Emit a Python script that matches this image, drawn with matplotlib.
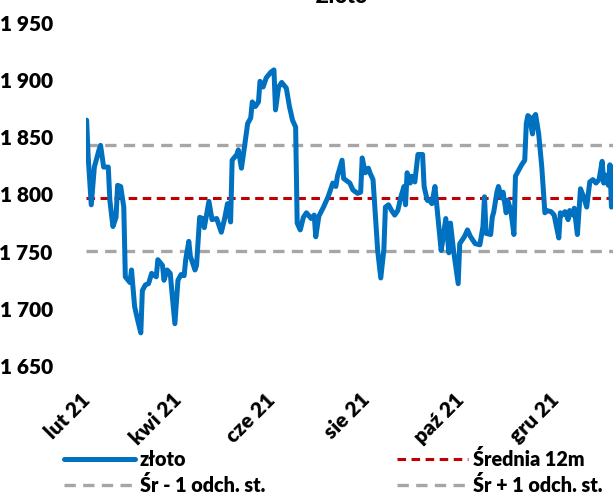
import matplotlib
matplotlib.use("Agg")
import matplotlib.pyplot as plt
import matplotlib.dates as mdates
import matplotlib.ticker as mticker
from matplotlib.lines import Line2D
import pandas as pd

plt.rcParams["font.family"] = ["Lato", "DejaVu Sans"]
plt.rcParams["font.weight"] = "bold"

# ── data ────────────────────────────────────────────────────────────────────
START = "2021-02-01"
days = [0, 1, 3, 5, 8, 9, 11, 14, 15, 17, 19, 20, 22, 24, 25, 28, 29, 31, 33,
        35, 36, 38, 40, 42, 45, 46, 49, 50, 52, 54, 57, 59, 61, 63, 64, 66, 67,
        70, 71, 73, 75, 76, 79, 81, 84, 87, 89, 91, 93, 94, 97, 98, 100, 102,
        104, 106, 107, 109, 111, 112, 114, 116, 119, 121, 122, 124, 126, 129,
        131, 133, 135, 136, 138, 140, 142, 145, 147, 148, 150, 153, 156, 159,
        161, 162, 165, 166, 170, 172, 175, 177, 178, 180, 182, 183, 185, 187,
        188, 190, 192, 193, 195, 197, 199, 201, 203, 205, 206, 207, 209, 210,
        212, 214, 217, 218, 220, 222, 223, 225, 227, 229, 230, 232, 234, 235,
        237, 240, 241, 244, 246, 248, 251, 254, 256, 257, 258, 261, 262, 263,
        265, 266, 268, 269, 271, 272, 274, 276, 277, 281, 283, 284, 285, 286,
        288, 289, 290, 292, 294, 296, 297, 300, 302, 303, 305, 306, 307, 309,
        311, 312, 314, 315, 317, 319, 321, 323, 325, 327, 329, 331, 333, 334,
        335, 337, 338, 339, 340, 342]
zloto = [1865, 1833, 1791, 1824, 1839, 1843, 1824, 1824, 1795, 1772, 1780,
         1808, 1807, 1789, 1728, 1723, 1734, 1702, 1690, 1679, 1716, 1721,
         1722, 1731, 1728, 1743, 1738, 1725, 1734, 1731, 1687, 1725, 1730,
         1729, 1743, 1759, 1746, 1734, 1738, 1780, 1779, 1771, 1794, 1778,
         1779, 1767, 1778, 1792, 1776, 1830, 1835, 1839, 1823, 1842, 1862,
         1867, 1881, 1877, 1881, 1899, 1894, 1902, 1907, 1909, 1874, 1894,
         1898, 1893, 1877, 1865, 1859, 1775, 1769, 1780, 1784, 1779, 1782,
         1763, 1781, 1789, 1798, 1810, 1807, 1816, 1830, 1814, 1810, 1804,
         1801, 1802, 1832, 1819, 1823, 1819, 1813, 1772, 1751, 1727, 1752,
         1789, 1791, 1786, 1782, 1786, 1798, 1807, 1791, 1819, 1810, 1816,
         1811, 1835, 1835, 1807, 1795, 1794, 1792, 1807, 1779, 1751, 1760,
         1779, 1749, 1775, 1751, 1722, 1757, 1763, 1769, 1763, 1757, 1756,
         1772, 1798, 1766, 1765, 1780, 1785, 1802, 1807, 1797, 1802, 1784,
         1795, 1786, 1765, 1816, 1826, 1830, 1862, 1869, 1868, 1853, 1868,
         1870, 1853, 1824, 1784, 1786, 1785, 1782, 1775, 1762, 1784, 1782,
         1785, 1778, 1786, 1782, 1788, 1765, 1805, 1798, 1789, 1811, 1813,
         1810, 1813, 1829, 1810, 1817, 1808, 1826, 1789, 1824, 1815]
srednia_12m = 1797
odch_12m = 46

months_pl = ["sty", "lut", "mar", "kwi", "maj", "cze",
             "lip", "sie", "wrz", "paź", "lis", "gru"]
y_ticks = [1650, 1700, 1750, 1800, 1850, 1900, 1950]

# ── style ───────────────────────────────────────────────────────────────────
BLUE = "#0070C0"
RED = "#C00000"
GREY = "#A6A6A6"
W, H, DPI = 613, 495, 100

dates = pd.to_datetime(START) + pd.to_timedelta(days, unit="D")

fig = plt.figure(figsize=(W / DPI, H / DPI), dpi=DPI)
ax = fig.add_axes([86 / W, 1 - 366 / H, 1 - 86 / W, (366 - 23) / H])

ax.plot(dates, zloto, color=BLUE, lw=3.6, solid_joinstyle="round",
        solid_capstyle="round", zorder=3)
ax.axhline(srednia_12m, color=RED, lw=2.2, dashes=(2.8, 1.8), zorder=2)
ax.axhline(srednia_12m - odch_12m, color=GREY, lw=2.4, dashes=(3.4, 2.2), zorder=2)
ax.axhline(srednia_12m + odch_12m, color=GREY, lw=2.4, dashes=(3.4, 2.2), zorder=2)

start = pd.to_datetime(START)
ax.set_xlim(start - pd.Timedelta(days=0.4), start + pd.Timedelta(days=340))
ax.set_ylim(y_ticks[0], y_ticks[-1])
ax.set_yticks(y_ticks)
ax.yaxis.set_major_formatter(
    mticker.FuncFormatter(lambda v, p: f"{int(v):,}".replace(",", " ")))

ax.xaxis.set_major_locator(mdates.MonthLocator(bymonth=[2, 4, 6, 8, 10, 12]))
ax.xaxis.set_major_formatter(
    mticker.FuncFormatter(lambda v, p: "{} {:%y}".format(
        months_pl[mdates.num2date(v).month - 1], mdates.num2date(v))))

ax.tick_params(axis="y", length=0, pad=24, labelsize=15)
ax.tick_params(axis="x", length=0, pad=22, labelsize=15)
for lab in ax.get_yticklabels() + ax.get_xticklabels():
    lab.set_fontweight("heavy")
for lab in ax.get_xticklabels():
    lab.set_rotation(45)
    lab.set_ha("right")
    lab.set_va("center")
    lab.set_rotation_mode("anchor")

for s in ax.spines.values():
    s.set_visible(False)

# chart title sits at the very top edge of the frame
fig.text(342 / W, 1 - 3 / H, "Złoto", ha="center", va="baseline",
         fontsize=15, fontweight="heavy")

handles = [
    Line2D([], [], color=BLUE, lw=3.6, solid_capstyle="round"),
    Line2D([], [], color=GREY, lw=2.4, dashes=(3.4, 2.2)),
    Line2D([], [], color=RED, lw=2.2, dashes=(2.8, 1.8)),
    Line2D([], [], color=GREY, lw=2.4, dashes=(3.4, 2.2)),
]
labels = ["złoto", "Śr - 1 odch. st.", "Średnia 12m", "Śr + 1 odch. st."]
fig.legend(handles, labels, loc="upper left", bbox_to_anchor=(64 / W, 1 - 449 / H),
           ncol=2, frameon=False, handlelength=3.6,
           handletextpad=0.25, columnspacing=6.7, labelspacing=0.28,
           borderpad=0, borderaxespad=0,
           prop={"size": 14.2, "weight": "heavy"})

fig.savefig("out.png", dpi=DPI)
